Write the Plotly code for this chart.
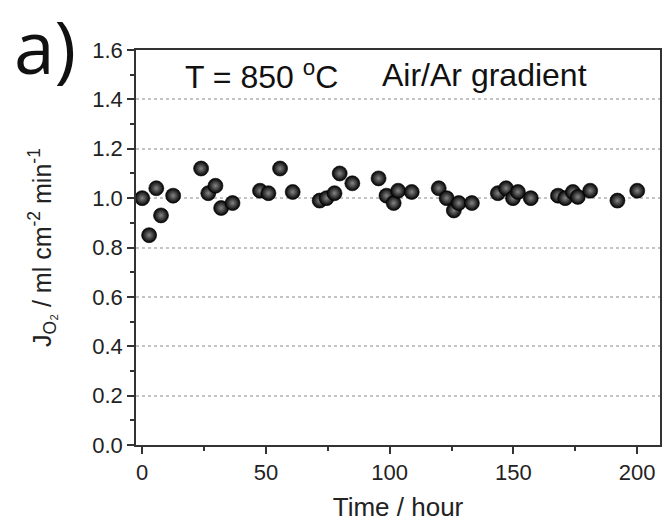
import plotly.graph_objects as go

time_h = [0, 2.8, 5.7, 7.6, 12.5, 23.8, 26.7, 29.6, 31.9, 36.5,
          47.6, 51.0, 55.7, 60.8, 71.7, 74.5, 77.7, 79.8, 84.9, 95.5,
          98.7, 101.6, 103.4, 108.9, 119.8, 123.0, 125.9, 127.9, 133.2,
          143.7, 147.0, 149.8, 151.8, 157.0, 168.0, 170.9, 174.0, 176.0,
          181.0, 192.0, 200.0]
flux = [1.00, 0.85, 1.04, 0.93, 1.01, 1.12, 1.02, 1.05, 0.96, 0.98,
        1.03, 1.02, 1.12, 1.025, 0.99, 1.00, 1.02, 1.10, 1.06, 1.08,
        1.01, 0.98, 1.03, 1.025, 1.04, 1.00, 0.95, 0.98, 0.98,
        1.02, 1.04, 1.00, 1.025, 1.00, 1.01, 1.00, 1.025, 1.005,
        1.03, 0.99, 1.03]

x_ticks = [0, 50, 100, 150, 200]
y_ticks = [0.0, 0.2, 0.4, 0.6, 0.8, 1.0, 1.2, 1.4, 1.6]
y_tick_labels = ["0.0", "0.2", "0.4", "0.6", "0.8", "1.0", "1.2", "1.4", "1.6"]

fig = go.Figure()
fig.add_trace(go.Scatter(
    x=time_h, y=flux, mode="markers",
    marker=dict(size=15, color="#000000",
                gradient=dict(type="radial", color="#858585"),
                line=dict(color="#000000", width=0.6)),
    showlegend=False, cliponaxis=False,
))

axis_common = dict(
    showline=True, linecolor="#333333", linewidth=1.5, mirror=True,
    ticks="outside", ticklen=7, tickwidth=1.5, tickcolor="#333333",
    zeroline=False,
    tickfont=dict(family="Liberation Sans, Arial", size=22, color="#222222"),
)

fig.update_xaxes(
    range=[-2.5, 209.2], tickvals=x_ticks, showgrid=False,
    minor=dict(ticks="outside", ticklen=4, dtick=25, tick0=0, tickwidth=1.5,
               tickcolor="#333333", showgrid=False),
    title=dict(text="Time / hour", font=dict(family="Liberation Sans, Arial", size=26, color="#222222"),
               standoff=16),
    **axis_common,
)
fig.update_yaxes(
    range=[0, 1.6], tickvals=y_ticks, ticktext=y_tick_labels,
    showgrid=True, gridcolor="#c4c4c4", griddash="dot", gridwidth=1.5,
    minor=dict(ticks="outside", ticklen=4, dtick=0.1, tick0=0, tickwidth=1.5,
               tickcolor="#333333", showgrid=False),
    title=dict(text="J<sub>O₂</sub> / ml cm<sup>-2</sup> min<sup>-1</sup>",
               font=dict(family="Liberation Sans, Arial", size=25, color="#222222"),
               standoff=34),
    **axis_common,
)

fig.add_annotation(text="T = 850 <sup>o</sup>C", xref="paper", yref="paper",
                   x=(183 - 136) / 524, y=(445 - 75) / 395, xanchor="left", yanchor="middle",
                   showarrow=False, font=dict(family="Liberation Sans, Arial", size=32, color="#111111"))
fig.add_annotation(text="Air/Ar gradient", xref="paper", yref="paper",
                   x=(380 - 136) / 524, y=(445 - 75) / 395, xanchor="left", yanchor="middle",
                   showarrow=False, font=dict(family="Liberation Sans, Arial", size=32, color="#111111"))
fig.add_annotation(text="a)", xref="paper", yref="paper",
                   x=(12 - 136) / 524, y=(445 - 46) / 395, xanchor="left", yanchor="middle",
                   showarrow=False, font=dict(family="Open Sans", size=73, color="#111111"))

fig.update_layout(
    width=662, height=522,
    margin=dict(l=136, r=2, t=50, b=77, autoexpand=False),
    paper_bgcolor="white", plot_bgcolor="white",
)

fig.write_html("out.html", config={"displayModeBar": False},
               post_script="document.body.style.margin='0';")
